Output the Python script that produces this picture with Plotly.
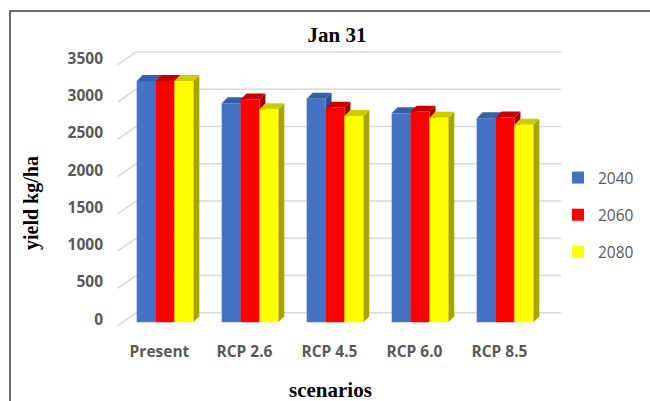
import numpy as np
import plotly.graph_objects as go

# ---- data ----
scenarios = ["Present", "RCP 2.6", "RCP 4.5", "RCP 6.0", "RCP 8.5"]
years = ["2040", "2060", "2080"]
yield_2040 = [3240, 2940, 3000, 2805, 2740]
yield_2060 = [3240, 2990, 2880, 2825, 2750]
yield_2080 = [3240, 2860, 2770, 2745, 2650]
y_ticks = [0, 500, 1000, 1500, 2000, 2500, 3000, 3500]

series = [yield_2040, yield_2060, yield_2080]
front_colors = ["#4472C4", "#FF0000", "#FFFF00"]
top_colors = ["#3560AC", "#C80000", "#CFCB00"]
side_colors = ["#2B4F91", "#A00000", "#A8A500"]

# ---- layout geometry (pixels) ----
W, H = 650, 401
L, R, T, B = 116, 85, 45, 66
plot_w = W - L - R
plot_h = H - T - B
x_range = [-0.5765, 4.706]
y_range = [-170.5, 3722]
ux = plot_w / (x_range[1] - x_range[0])   # px per category unit
uy = plot_h / (y_range[1] - y_range[0])   # px per kg/ha

bargap = 0.334
bar_w = (1 - bargap) / 3
# bar depth (3-D look) in data units
bdx, bdy = 6 / ux, 6 / uy
# back wall offset and floor front edge offset in data units
wall_dx, wall_dy = 13.4 / ux, 9.5 / uy
front_dx, front_dy = 4.8 / ux, 3.4 / uy


def px_x(px):
    return (px - L) / plot_w


def px_y(py):
    return (H - B - py) / plot_h


fig = go.Figure()
xs = np.arange(len(scenarios))
for name, vals, col in zip(years, series, front_colors):
    fig.add_trace(go.Bar(
        x=xs, y=vals, name=name, marker=dict(color=col, line=dict(width=0)),
        legendgroup=name,
    ))

shapes = []
# wall gridlines with slanted floor connectors
grid_style = dict(color="#D9D9D9", width=1.5)
for v in y_ticks:
    shapes.append(dict(type="line", xref="x", yref="y", layer="below",
                       x0=-0.5 + wall_dx, x1=4.5 + wall_dx,
                       y0=v + wall_dy, y1=v + wall_dy, line=grid_style))
    shapes.append(dict(type="line", xref="x", yref="y", layer="below",
                       x0=-0.5 - front_dx, y0=v - front_dy,
                       x1=-0.5 + wall_dx, y1=v + wall_dy, line=grid_style))

# side and top faces of each bar
for i in range(len(scenarios)):
    for j, vals in enumerate(series):
        v = vals[i]
        x0 = i - (1 - bargap) / 2 + j * bar_w
        x1 = x0 + bar_w
        side = (f"M{x1},0 L{x1 + bdx},{bdy} L{x1 + bdx},{v + bdy} "
                f"L{x1},{v} Z")
        top = (f"M{x0},{v} L{x1},{v} L{x1 + bdx},{v + bdy} "
               f"L{x0 + bdx},{v + bdy} Z")
        shapes.append(dict(type="path", xref="x", yref="y", layer="between",
                           path=side, fillcolor=side_colors[j],
                           line=dict(width=0)))
        shapes.append(dict(type="path", xref="x", yref="y", layer="between",
                           path=top, fillcolor=top_colors[j],
                           line=dict(width=0)))

# chart frame
shapes.append(dict(type="rect", xref="paper", yref="paper", layer="below",
                   x0=px_x(10), x1=px_x(662), y0=px_y(412), y1=px_y(11),
                   line=dict(color="#3A3A3A", width=1.5), fillcolor="rgba(0,0,0,0)"))

tick_font = dict(family="Open Sans", size=15.5, color="#595959", weight=700)
serif = "Liberation Serif"

fig.update_layout(
    width=W, height=H,
    margin=dict(l=L, r=R, t=T, b=B, autoexpand=False),
    paper_bgcolor="white", plot_bgcolor="white",
    barmode="group", bargap=bargap, bargroupgap=0,
    shapes=shapes,
    title=dict(text="<b>Jan 31</b>", xref="container", yref="container",
               x=337 / W, y=1 - 35 / H, xanchor="center", yanchor="middle",
               font=dict(family=serif, size=21, color="black")),
    xaxis=dict(range=x_range, tickvals=xs - 0.065, ticktext=scenarios,
               showgrid=False, zeroline=False, showline=False, ticks="",
               tickfont=tick_font, ticklabelstandoff=5),
    yaxis=dict(range=y_range, tickvals=y_ticks, showgrid=False,
               zeroline=False, showline=False, ticks="",
               tickfont=tick_font, ticklabelstandoff=12, ticklabelshift=-3),
    legend=dict(x=px_x(558), y=px_y(161), xanchor="left", yanchor="top",
                font=dict(family="Open Sans", size=15.5, color="#595959"),
                tracegroupgap=14, bgcolor="rgba(0,0,0,0)"),
    annotations=[
        dict(text="<b>scenarios</b>", xref="paper", yref="paper",
             x=px_x(330), y=px_y(390), xanchor="center", yanchor="middle",
             showarrow=False, font=dict(family=serif, size=21, color="black")),
        dict(text="<b>yield kg/ha</b>", xref="paper", yref="paper",
             x=px_x(31), y=px_y(203), xanchor="center", yanchor="middle",
             textangle=-90, showarrow=False,
             font=dict(family=serif, size=20, color="black")),
    ],
)

fig.write_html("out.html")
